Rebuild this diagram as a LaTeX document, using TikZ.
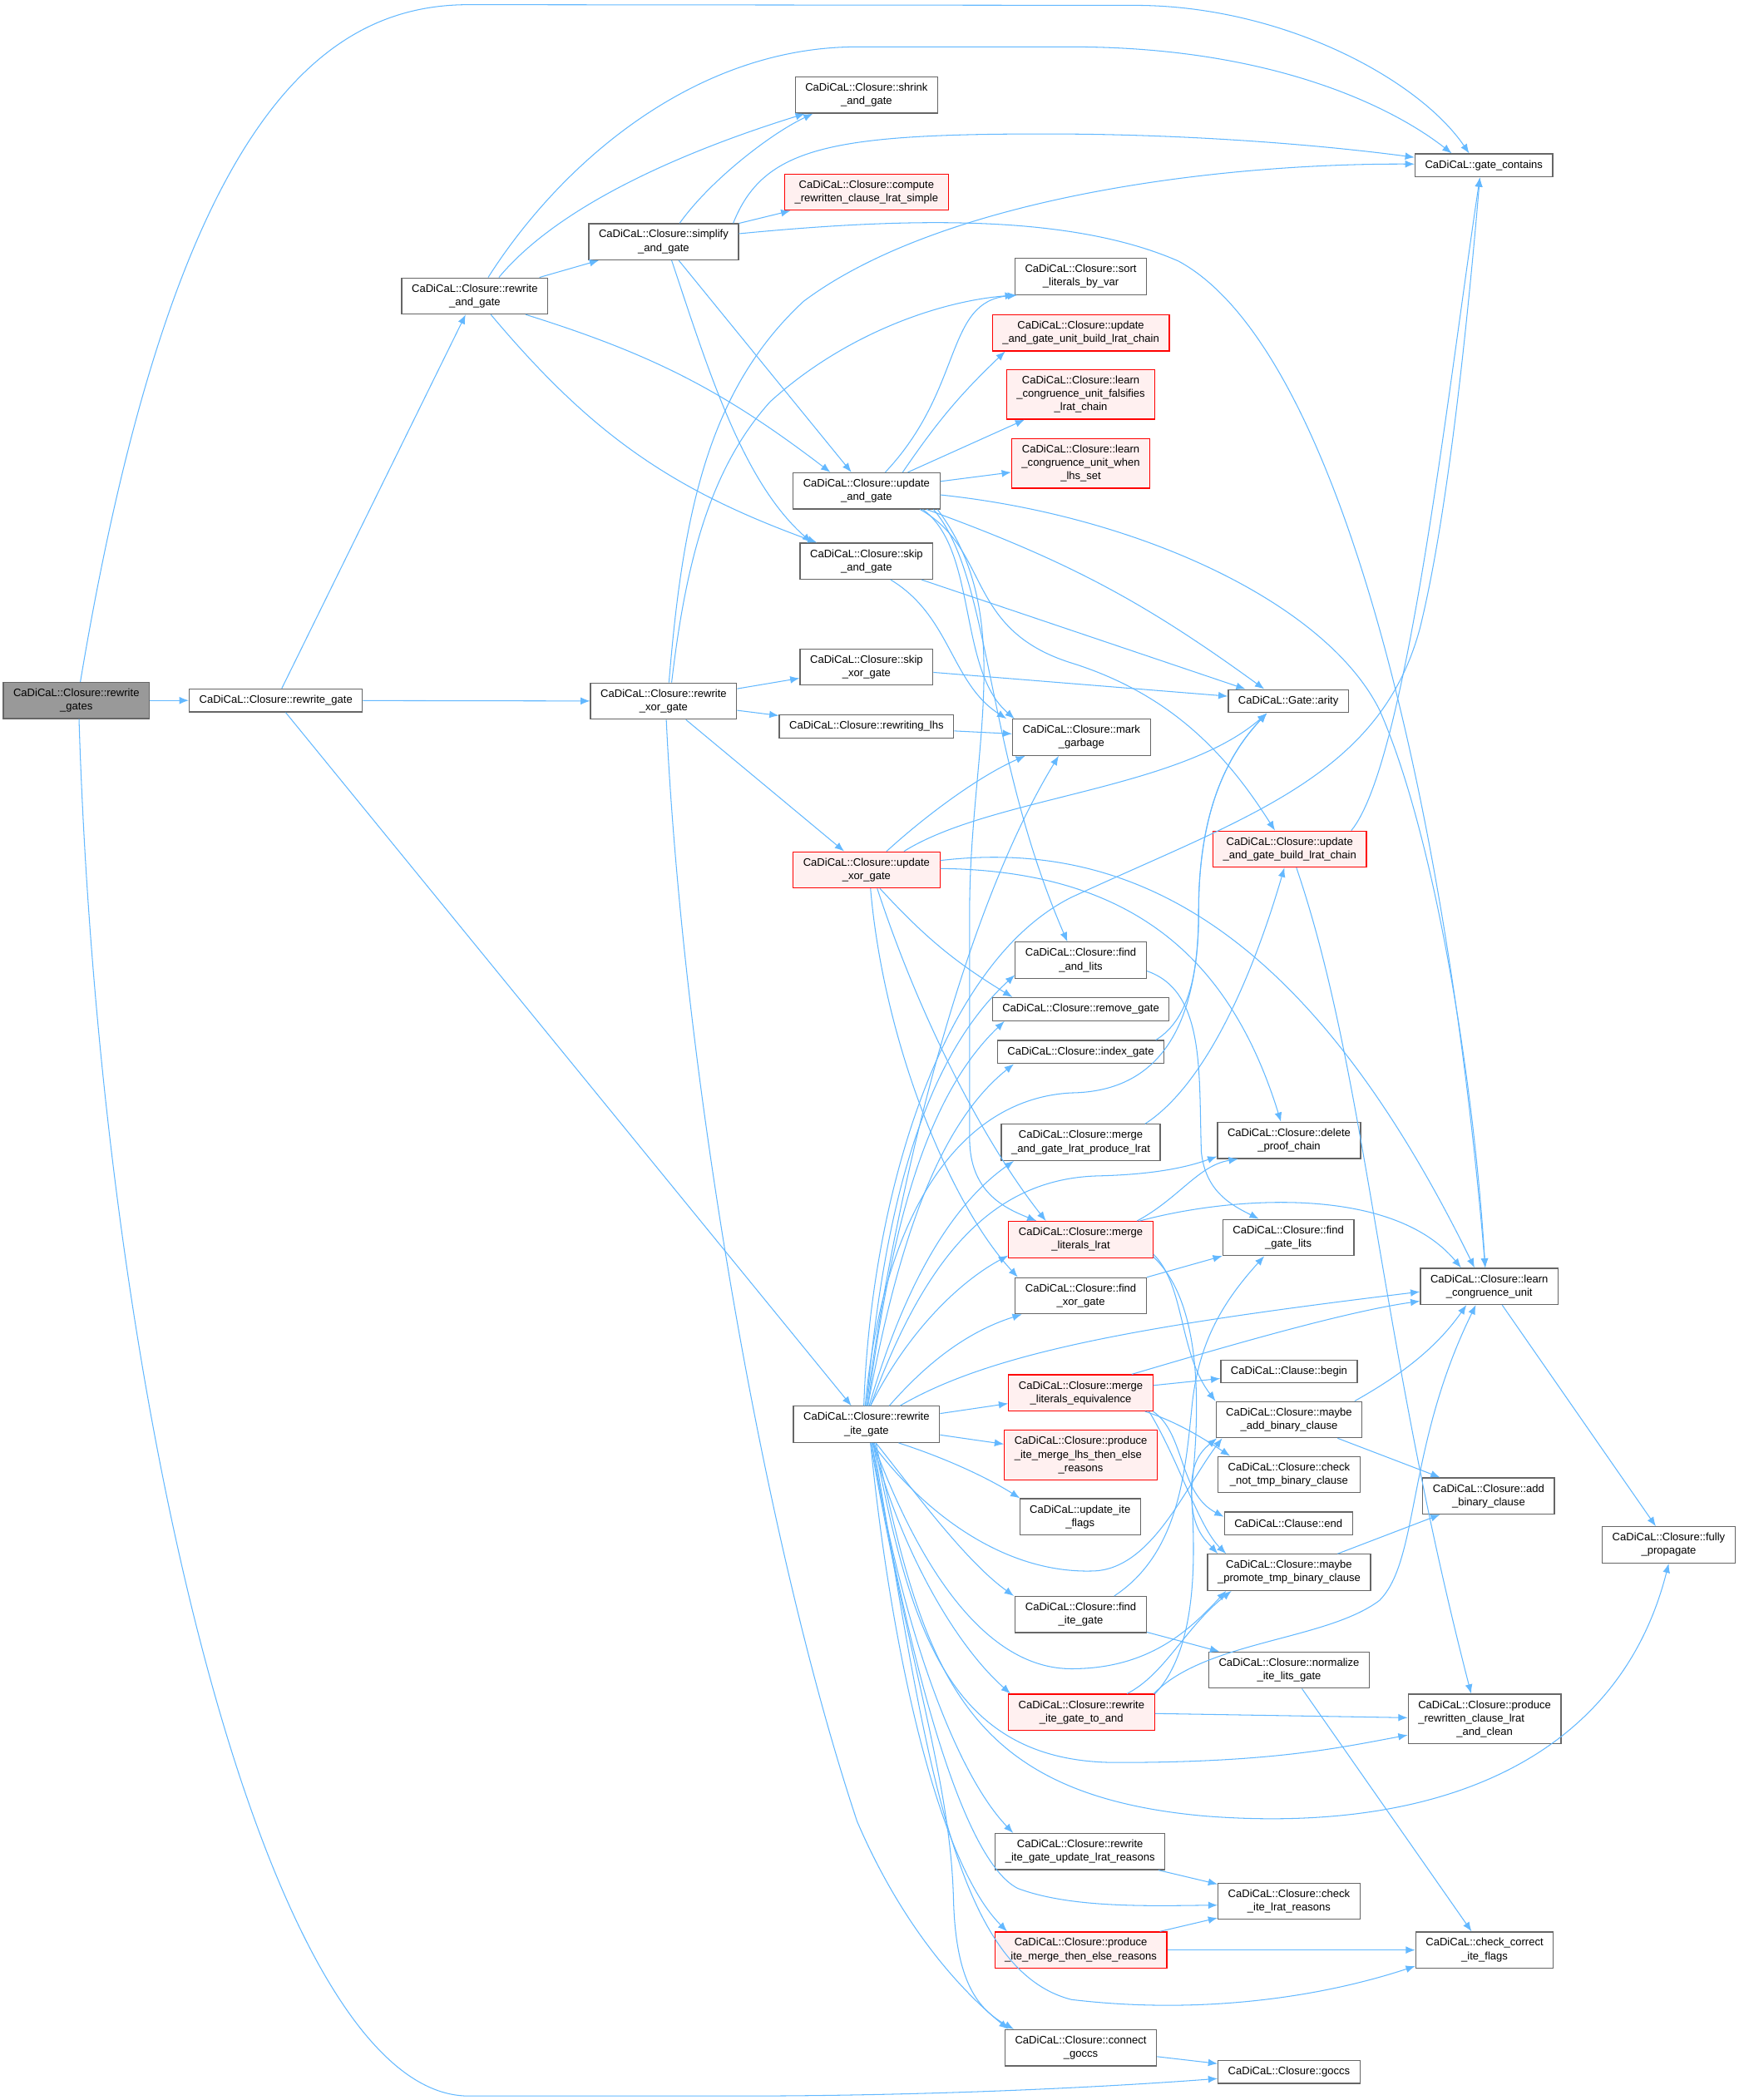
\documentclass[tikz,border=0pt]{standalone}
\usepackage{fontspec}
\setmainfont{Liberation Sans}
\usepackage{tikz}
\usetikzlibrary{arrows.meta}
\definecolor{edgeblue}{HTML}{63B8FF}
\definecolor{boxgray}{HTML}{666666}
\definecolor{redfill}{HTML}{FFF0F0}
\definecolor{rootfill}{HTML}{999999}
\tikzset{
  fnbox/.style={draw=boxgray,fill=white,line width=0.75pt,inner xsep=7.5pt,inner ysep=0pt,
    minimum height=17.2pt,align=center,font=\fontsize{8.1}{10}\selectfont},
  twoline/.style={minimum height=27pt},
  threeline/.style={minimum height=37pt},
  redbox/.style={fnbox,draw=red,fill=redfill},
  rootbox/.style={fnbox,fill=rootfill},
  callarrow/.style={-{Latex[length=7pt,width=5.5pt]},draw=edgeblue,line width=0.65pt}
}

\begin{document}
\begin{tikzpicture}[x=1pt,y=-1pt]
\useasboundingbox (0,0) rectangle (1298,1568);

\node[rootbox,twoline] (gates) at (57,523) {CaDiCaL::Closure::rewrite\\\_gates};
\node[fnbox] (rgate) at (206,523) {CaDiCaL::Closure::rewrite\_gate};
\node[fnbox,twoline] (rand) at (354.5,221) {CaDiCaL::Closure::rewrite\\\_and\_gate};
\node[fnbox,twoline] (simp) at (495.5,180.5) {CaDiCaL::Closure::simplify\\\_and\_gate};
\node[fnbox,twoline] (rxor) at (495.5,523.5) {CaDiCaL::Closure::rewrite\\\_xor\_gate};
\node[fnbox,twoline] (shrink) at (647,71) {CaDiCaL::Closure::shrink\\\_and\_gate};
\node[redbox,twoline] (comp) at (647,143.5) {CaDiCaL::Closure::compute\\\_rewritten\_clause\_lrat\_simple};
\node[fnbox,twoline] (uand) at (647,366.5) {CaDiCaL::Closure::update\\\_and\_gate};
\node[fnbox,twoline] (skipand) at (647,419) {CaDiCaL::Closure::skip\\\_and\_gate};
\node[fnbox,twoline] (skipxor) at (647,498) {CaDiCaL::Closure::skip\\\_xor\_gate};
\node[fnbox] (rlhs) at (647,542.5) {CaDiCaL::Closure::rewriting\_lhs};
\node[redbox,twoline] (uxor) at (647,649.5) {CaDiCaL::Closure::update\\\_xor\_gate};
\node[fnbox,twoline] (rite) at (647,1063.5) {CaDiCaL::Closure::rewrite\\\_ite\_gate};
\node[fnbox,twoline] (sortl) at (807,206.5) {CaDiCaL::Closure::sort\\\_literals\_by\_var};
\node[redbox,twoline] (uunit) at (807,248.5) {CaDiCaL::Closure::update\\\_and\_gate\_unit\_build\_lrat\_chain};
\node[redbox,threeline] (lfals) at (807,294.5) {CaDiCaL::Closure::learn\\\_congruence\_unit\_falsifies\\\_lrat\_chain};
\node[redbox,threeline] (lwhen) at (807,346) {CaDiCaL::Closure::learn\\\_congruence\_unit\_when\\\_lhs\_set};
\node[fnbox,twoline] (mark) at (807.5,550.5) {CaDiCaL::Closure::mark\\\_garbage};
\node[fnbox,twoline] (findand) at (807,717) {CaDiCaL::Closure::find\\\_and\_lits};
\node[fnbox] (remove) at (807,753.5) {CaDiCaL::Closure::remove\_gate};
\node[fnbox] (index) at (807,785.5) {CaDiCaL::Closure::index\_gate};
\node[fnbox,twoline] (mergeand) at (807,853) {CaDiCaL::Closure::merge\\\_and\_gate\_lrat\_produce\_lrat};
\node[redbox,twoline] (mlrat) at (807,925.5) {CaDiCaL::Closure::merge\\\_literals\_lrat};
\node[fnbox,twoline] (findxor) at (807,967.5) {CaDiCaL::Closure::find\\\_xor\_gate};
\node[redbox,twoline] (mequiv) at (807,1040) {CaDiCaL::Closure::merge\\\_literals\_equivalence};
\node[redbox,threeline] (plhs) at (807,1086.5) {CaDiCaL::Closure::produce\\\rlap{\_ite\_merge\_lhs\_then\_else}\phantom{CaDiCaL::Closure::produce}\\\_reasons};
\node[fnbox,twoline] (uiteflags) at (806.5,1132.5) {CaDiCaL::update\_ite\\\_flags};
\node[fnbox,twoline] (findite) at (807,1205.5) {CaDiCaL::Closure::find\\\_ite\_gate};
\node[redbox,twoline] (rtoand) at (807.5,1278.5) {CaDiCaL::Closure::rewrite\\\_ite\_gate\_to\_and};
\node[fnbox,twoline] (rupdate) at (806.5,1382.5) {CaDiCaL::Closure::rewrite\\\_ite\_gate\_update\_lrat\_reasons};
\node[redbox,twoline] (pthen) at (807,1456) {CaDiCaL::Closure::produce\\\_ite\_merge\_then\_else\_reasons};
\node[fnbox,twoline] (connect) at (807,1529) {CaDiCaL::Closure::connect\\\_goccs};
\node[fnbox] (arity) at (962,523.5) {CaDiCaL::Gate::arity};
\node[redbox,twoline] (ubuild) at (963,634) {CaDiCaL::Closure::update\\\_and\_gate\_build\_lrat\_chain};
\node[fnbox,twoline] (delproof) at (962.5,851.5) {CaDiCaL::Closure::delete\\\_proof\_chain};
\node[fnbox,twoline] (gatelits) at (962,924) {CaDiCaL::Closure::find\\\_gate\_lits};
\node[fnbox] (cbegin) at (962.5,1024) {CaDiCaL::Clause::begin};
\node[fnbox,twoline] (maddbin) at (962.5,1060) {CaDiCaL::Closure::maybe\\\_add\_binary\_clause};
\node[fnbox,twoline] (cnottmp) at (962.5,1101) {CaDiCaL::Closure::check\\\_not\_tmp\_binary\_clause};
\node[fnbox] (cend) at (962,1137.5) {CaDiCaL::Clause::end};
\node[fnbox,twoline] (mpromote) at (962.5,1174) {CaDiCaL::Closure::maybe\\\_promote\_tmp\_binary\_clause};
\node[fnbox,twoline] (normite) at (962.5,1247) {CaDiCaL::Closure::normalize\\\_ite\_lits\_gate};
\node[fnbox,twoline] (cite) at (962.5,1419.5) {CaDiCaL::Closure::check\\\_ite\_lrat\_reasons};
\node[fnbox] (goccs) at (962.5,1547) {CaDiCaL::Closure::goccs};
\node[fnbox] (gcont) at (1108,123.5) {CaDiCaL::gate\_contains};
\node[fnbox,twoline] (lcu) at (1112,960.5) {CaDiCaL::Closure::learn\\\_congruence\_unit};
\node[fnbox,twoline] (addbin) at (1111.5,1117) {CaDiCaL::Closure::add\\\_binary\_clause};
\node[fnbox,threeline] (prodclean) at (1108.5,1283.5) {CaDiCaL::Closure::produce\\\rlap{\_rewritten\_clause\_lrat}\phantom{CaDiCaL::Closure::produce}\\\_and\_clean};
\node[fnbox,twoline] (ccorrect) at (1108.5,1456) {CaDiCaL::check\_correct\\\_ite\_flags};
\node[fnbox,twoline] (fprop) at (1246,1153.5) {CaDiCaL::Closure::fully\\\_propagate};

\draw[callarrow] ([xshift=3]gates.north) .. controls (130,90) and (240,3) .. (351,3.5) -- (850,4) .. controls (960,5) and (1060,60) .. ([xshift=-11]gcont.north);
\draw[callarrow] (gates) -- (rgate);
\draw[callarrow] ([xshift=2]gates.south) .. controls (75,1050) and (200,1565) .. (350,1565) -- (550,1565) .. controls (700,1565) and (830,1558) .. ([yshift=-5]goccs.west);
\draw[callarrow] (rgate) -- (rand);
\draw[callarrow] (rgate) -- (rxor);
\draw[callarrow] (rgate) -- (rite);

\draw[callarrow] ([xshift=10]rand.north) .. controls (420,120) and (520,35) .. (640,35) -- (800,35) .. controls (950,35) and (1040,80) .. ([xshift=-24]gcont.north);
\draw[callarrow] ([xshift=18]rand.north) .. controls (420,150) and (520,110) .. ([xshift=-46]shrink.south);
\draw[callarrow] (rand) -- (simp);
\draw[callarrow] ([xshift=38]rand.south) to[bend left=10] ([xshift=-27]uand.north);
\draw[callarrow] ([xshift=12]rand.south) to[bend right=15] ([xshift=-37]skipand.north);

\draw[callarrow] ([xshift=12]simp.north) .. controls (530,135) and (575,100) .. ([xshift=-40]shrink.south);
\draw[callarrow] ([xshift=52]simp.north) .. controls (570,110) and (620,100) .. (780,100) .. controls (900,100) and (1000,110) .. ([yshift=6]gcont.west);
\draw[callarrow] (simp) -- (comp);
\draw[callarrow] ([yshift=6]simp.east) .. controls (680,162) and (800,160) .. (880,195) .. controls (1000,260) and (1080,600) .. ([xshift=-3]lcu.north);
\draw[callarrow] (simp) -- (uand);
\draw[callarrow] ([xshift=6]simp.south) .. controls (530,280) and (555,360) .. ([xshift=-41]skipand.north);

\draw[callarrow] ([xshift=14]uand.north) .. controls (720,290) and (705,225) .. ([xshift=2]sortl.south west);
\draw[callarrow] ([xshift=27]uand.north) to[bend left=6] ([xshift=10]uunit.south west);
\draw[callarrow] (uand) -- (lfals);
\draw[callarrow] (uand) -- (lwhen);
\draw[callarrow] ([yshift=-3]uand.east) .. controls (850,385) and (990,450) .. (1030,530) .. controls (1070,620) and (1100,800) .. ([xshift=-3]lcu.north);
\draw[callarrow] ([xshift=45]uand.south) to[bend left=8] ([xshift=-18]arity.north);
\draw[callarrow] ([xshift=42]uand.south) .. controls (730,410) and (715,500) .. ([xshift=-50]mark.north);
\draw[callarrow] ([xshift=50]uand.south) .. controls (740,430) and (735,560) .. ([xshift=-10]findand.north);
\draw[callarrow] ([xshift=53]uand.south) .. controls (760,460) and (724,560) .. (724,680) -- (724,850) .. controls (724,890) and (750,902) .. ([xshift=-33]mlrat.north);
\draw[callarrow] ([xshift=40]uand.south) .. controls (740,410) and (720,470) .. (800,495) .. controls (880,520) and (920,570) .. ([xshift=-11]ubuild.north);
\draw[callarrow] (skipand) -- ([xshift=-32]arity.north);
\draw[callarrow] ([xshift=18]skipand.south) .. controls (710,460) and (710,510) .. ([xshift=-56]mark.north);

\draw[callarrow] ([xshift=4]rxor.north) .. controls (510,380) and (530,290) .. (600,225) .. controls (700,150) and (900,122) .. ([yshift=1]gcont.west);
\draw[callarrow] ([xshift=6]rxor.north) .. controls (512,420) and (530,350) .. (575,300) .. controls (630,250) and (700,225) .. (sortl.south west);
\draw[callarrow] (rxor) -- (skipxor);
\draw[callarrow] (rxor) -- (rlhs);
\draw[callarrow] (rxor) -- (uxor);
\draw[callarrow] ([xshift=2]rxor.south) .. controls (510,800) and (570,1150) .. (640,1360) .. controls (670,1430) and (710,1480) .. ([xshift=-54]connect.north);
\draw[callarrow] (skipxor) -- (arity);
\draw[callarrow] (rlhs) -- (mark);

\draw[callarrow] ([xshift=15]uxor.north) .. controls (690,610) and (730,580) .. ([xshift=-42]mark.south);
\draw[callarrow] ([xshift=28]uxor.north) .. controls (740,595) and (880,590) .. ([xshift=-16]arity.south);
\draw[callarrow] ([yshift=7]uxor.east) .. controls (850,625) and (980,700) .. ([xshift=-11]lcu.north);
\draw[callarrow] ([yshift=1]uxor.east) .. controls (850,650) and (920,720) .. ([xshift=-6]delproof.north);
\draw[callarrow] ([xshift=10]uxor.south) to[bend right=8] ([xshift=-51]remove.north);
\draw[callarrow] ([xshift=8]uxor.south) .. controls (690,770) and (740,860) .. ([xshift=-26]mlrat.north);
\draw[callarrow] ([xshift=3]uxor.south) .. controls (660,780) and (710,900) .. ([xshift=-47]findxor.north);

\draw[callarrow] ([xshift=46]ubuild.north) .. controls (1050,570) and (1080,300) .. ([xshift=-3]gcont.south);
\draw[callarrow] ([xshift=5]ubuild.south) .. controls (1020,800) and (1030,1000) .. ([xshift=-10]prodclean.north);
\draw[callarrow] ([yshift=-8]findand.east) .. controls (900,740) and (895,800) .. (897,860) .. controls (900,890) and (920,900) .. ([xshift=-22]gatelits.north);
\draw[callarrow] ([xshift=56]index.north) .. controls (890,760) and (895,720) .. (895,680) .. controls (895,600) and (920,560) .. ([xshift=-16]arity.south);
\draw[callarrow] ([xshift=48]mergeand.north) .. controls (900,810) and (935,730) .. ([xshift=-4]ubuild.south);

\draw[callarrow] ([xshift=42]mlrat.north) .. controls (880,895) and (895,870) .. ([xshift=-38]delproof.south);
\draw[callarrow] ([xshift=44]mlrat.north) .. controls (920,893) and (1040,885) .. ([xshift=-21]lcu.north);
\draw[callarrow] ([yshift=-11]mlrat.east) .. controls (885,960) and (880,1010) .. (maddbin.north west);
\draw[callarrow] ([yshift=-13]mlrat.east) .. controls (900,975) and (895,1060) .. (890,1110) .. controls (888,1140) and (900,1150) .. ([xshift=8]mpromote.north west);
\draw[callarrow] (findxor) -- (gatelits);

\draw[callarrow] ([xshift=38]mequiv.north) .. controls (900,1010) and (1000,980) .. ([yshift=-11]lcu.west);
\draw[callarrow] (mequiv) -- (cbegin);
\draw[callarrow] ([xshift=48]mequiv.south) .. controls (880,1062) and (900,1075) .. ([xshift=-44]cnottmp.north);
\draw[callarrow] ([xshift=54]mequiv.south) .. controls (885,1070) and (880,1115) .. ([yshift=5]cend.west);
\draw[callarrow] ([xshift=51]mequiv.south) .. controls (880,1090) and (895,1140) .. ([xshift=-47]mpromote.north);
\draw[callarrow] ([xshift=49]maddbin.north) .. controls (1040,1030) and (1070,1010) .. ([xshift=-17]lcu.south);
\draw[callarrow] (maddbin) -- (addbin);
\draw[callarrow] (mpromote) -- (addbin);
\draw[callarrow] (lcu) -- (fprop);
\draw[callarrow] ([xshift=25]findite.north) .. controls (880,1160) and (885,1100) .. (890,1050) .. controls (895,1000) and (915,970) .. ([xshift=-18]gatelits.south);
\draw[callarrow] (findite) -- (normite);
\draw[callarrow] (normite) -- (ccorrect);

\draw[callarrow] ([xshift=54]rtoand.north) .. controls (900,1225) and (990,1225) .. (1030,1195) .. controls (1060,1165) and (1050,1080) .. ([xshift=-10]lcu.south);
\draw[callarrow] ([xshift=34]rtoand.north) .. controls (870,1250) and (885,1215) .. ([xshift=-43]mpromote.south);
\draw[callarrow] (rtoand.north east) .. controls (895,1230) and (892,1160) .. (890,1120) .. controls (888,1095) and (895,1085) .. ([xshift=1]maddbin.south west);
\draw[callarrow] (rtoand) -- (prodclean);
\draw[callarrow] (rupdate) -- (cite);
\draw[callarrow] (pthen) -- (cite);
\draw[callarrow] (pthen) -- (ccorrect);
\draw[callarrow] (connect) -- (goccs);

\draw[callarrow] ([xshift=-2]rite.north) .. controls (650,900) and (700,720) .. (800,670) .. controls (930,610) and (1030,580) .. (1060,470) .. controls (1080,390) and (1095,250) .. ([xshift=-3]gcont.south);
\draw[callarrow] (rite.north) .. controls (670,880) and (720,680) .. ([xshift=-17]mark.south);
\draw[callarrow] (rite.north) .. controls (660,900) and (690,790) .. ([yshift=-11]findand.west);
\draw[callarrow] ([xshift=1]rite.north) .. controls (665,920) and (690,820) .. ([xshift=-57]remove.south);
\draw[callarrow] ([xshift=1]rite.north) .. controls (670,930) and (700,840) .. ([xshift=-50]index.south);
\draw[callarrow] ([xshift=2]rite.north) .. controls (675,960) and (710,900) .. ([xshift=-50]mergeand.south);
\draw[callarrow] ([xshift=3]rite.north) .. controls (690,940) and (740,880) .. (820,878) .. controls (860,877) and (885,872) .. ([yshift=-12]delproof.west);
\draw[callarrow] ([xshift=3]rite.north) .. controls (680,990) and (720,955) .. ([yshift=-12]mlrat.west);
\draw[callarrow] ([xshift=17]rite.north) .. controls (690,1020) and (720,995) .. ([xshift=-44]findxor.south);
\draw[callarrow] ([xshift=25]rite.north) .. controls (740,1010) and (850,990) .. ([yshift=-4]lcu.west);
\draw[callarrow] ([xshift=-1]rite.north) .. controls (660,900) and (720,820) .. (800,816) .. controls (870,815) and (895,760) .. (895,680) .. controls (895,600) and (920,560) .. ([xshift=-16]arity.south);
\draw[callarrow] (rite) -- (mequiv);
\draw[callarrow] (rite) -- (plhs);
\draw[callarrow] ([xshift=24]rite.south) .. controls (710,1090) and (740,1105) .. ([xshift=-45]uiteflags.north);
\draw[callarrow] ([xshift=7]rite.south) .. controls (680,1110) and (720,1165) .. ([xshift=-50]findite.north);
\draw[callarrow] ([xshift=5]rite.south) .. controls (670,1150) and (710,1225) .. ([xshift=-53]rtoand.north);
\draw[callarrow] ([xshift=4]rite.south) .. controls (670,1200) and (710,1320) .. ([xshift=-50]rupdate.north);
\draw[callarrow] ([xshift=3]rite.south) .. controls (665,1230) and (700,1390) .. ([xshift=-55]pthen.north);
\draw[callarrow] ([xshift=3]rite.south) .. controls (680,1250) and (710,1330) .. (712,1420) .. controls (714,1480) and (730,1500) .. ([xshift=-50]connect.north);
\draw[callarrow] ([xshift=4]rite.south) .. controls (690,1130) and (750,1175) .. (816,1173) .. controls (860,1172) and (885,1110) .. ([xshift=5]maddbin.south west);
\draw[callarrow] ([xshift=5]rite.south) .. controls (690,1180) and (740,1246) .. (800,1246) .. controls (860,1246) and (890,1215) .. ([xshift=-47]mpromote.south);
\draw[callarrow] ([xshift=6]rite.south) .. controls (680,1220) and (710,1316) .. (834,1316) .. controls (950,1316) and (1000,1305) .. ([yshift=-12]prodclean.west);
\draw[callarrow] ([xshift=7]rite.south) .. controls (690,1250) and (720,1340) .. (900,1356) .. controls (1080,1370) and (1210,1310) .. (fprop.south);
\draw[callarrow] ([xshift=4]rite.south) .. controls (680,1250) and (720,1390) .. (760,1410) .. controls (800,1425) and (860,1423) .. ([yshift=-3]cite.west);
\draw[callarrow] ([xshift=5]rite.south) .. controls (690,1300) and (710,1470) .. (800,1493) .. controls (900,1505) and (990,1490) .. ([yshift=-12]ccorrect.west);
\end{tikzpicture}
\end{document}
